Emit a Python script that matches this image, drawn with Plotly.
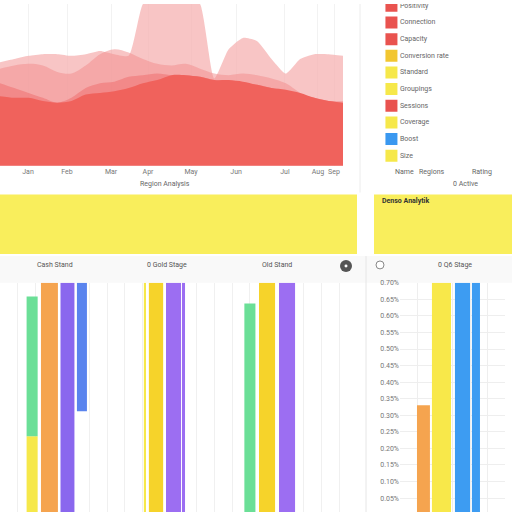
import plotly.graph_objects as go

# ---- data ----
# top-left: layered area chart (values 0-100)
area_x = list(range(25))
area_light = [64, 66, 68, 69, 69, 68, 69, 71, 69, 68, 100, 108, 108, 108, 100,
              54, 72, 79, 77, 66, 57, 66, 69, 69, 68]
area_mid = [60, 62, 63, 62, 58, 57, 62, 69, 72, 70, 66, 63, 62, 63, 60,
            57, 56, 57, 56, 54, 51, 45, 40, 40, 40]
area_deep = [51, 48, 45, 42, 39, 42, 48, 51, 52, 55, 56, 57, 56, 56, 55,
             53, 52, 51, 50, 48, 46, 44, 42, 40, 39]
area_base = [43, 42, 42, 40, 39, 40, 44, 45, 46, 48, 51, 53, 56, 56, 55,
             53, 53, 52, 50, 48, 47, 45, 42, 40, 39]
month_labels = ["Jan", "Feb", "Mar", "Apr", "May", "Jun", "Jul", "Aug", "Sep"]
month_pos = [1.96, 4.69, 7.77, 10.36, 13.37, 16.52, 19.94, 22.25, 23.37]

# top-right: key list
key_labels = ["Positivity", "Connection", "Capacity", "Conversion rate", "Standard",
              "Groupings", "Sessions", "Coverage", "Boost", "Size"]
key_colors = ["#e9534f", "#e9534f", "#e9534f", "#f2c630", "#f6e84a",
              "#f6e84a", "#e9534f", "#f6e84a", "#3a98f0", "#f6e84a"]

# bottom-left: bar groups (slot position, value)
green_x, green_y = [1.8, 14.0], [61, 91]
green_base = [33, 0]
yellow_low_x, yellow_low_y = [1.8], [33]
yellow_x, yellow_y = [8.12, 8.74, 14.96], [100, 100, 100]
orange_x, orange_y = [2.77], [100]
purple_x, purple_y = [3.78, 9.72, 10.28, 16.08], [100, 100, 100, 100]
blue_x, blue_y = [4.59], [56]
blue_base = [44]

# bottom-right: bars (percent)
r_orange_x, r_orange_y = [1.34], [0.33]
r_yellow_x, r_yellow_y = [2.37], [0.70]
r_blue_x, r_blue_y = [3.57, 4.34], [0.70, 0.70]
r_ticks = [0.05 * i for i in range(1, 15)]

fig = go.Figure()

# layered areas, pale ones behind, solid base in front
for vals, col, sm in [(area_light, "rgba(246,178,178,0.75)", 0.55), (area_mid, "rgba(242,140,140,0.5)", 0.9),
                      (area_deep, "rgba(238,112,112,0.55)", 0.9), (area_base, "rgba(240,98,92,1)", 0.9)]:
    fig.add_trace(go.Scatter(x=area_x, y=vals, mode="lines", fill="tozeroy",
                             line=dict(width=0, shape="spline", smoothing=sm),
                             fillcolor=col, hoverinfo="skip", xaxis="x", yaxis="y"))

# key list
fig.add_trace(go.Scatter(x=[1.2] * len(key_labels), y=list(range(len(key_labels))),
                         mode="markers+text", text=key_labels, textposition="middle right",
                         textfont=dict(size=7, color="#666"),
                         marker=dict(symbol="square", size=12, color=key_colors),
                         xaxis="x2", yaxis="y2"))

# bottom bars
def bars(x, y, color, width, base=None, xa="x3", ya="y3"):
    fig.add_trace(go.Bar(x=x, y=y, base=base, width=width, marker=dict(color=color, line_width=0),
                         xaxis=xa, yaxis=ya))

bars(yellow_low_x, yellow_low_y, "#f6e84a", [0.62])
bars(green_x, green_y, "#6bdf97", [0.62, 0.62], base=green_base)
bars(orange_x, orange_y, "#f5a44f", [0.95])
bars(purple_x, purple_y, ["#8a67ee", "#9c6ef2", "#9c6ef2", "#9c6ef2"], [0.78, 0.84, 0.17, 0.9])
bars(blue_x, blue_y, "#5a84ee", [0.56], base=blue_base)
bars(yellow_x, yellow_y, ["#f6e84a", "#f6d32a", "#f6d32a"], [0.12, 0.8, 0.9])

bars(r_orange_x, r_orange_y, "#f5a44f", [0.74], xa="x4", ya="y4")
bars(r_yellow_x, r_yellow_y, "#f8e84a", [1.09], xa="x4", ya="y4")
bars(r_blue_x, r_blue_y, "#3d9cf2", [0.86, 0.46], xa="x4", ya="y4")

def px(v, total=512):
    return v / total

tick_font = dict(size=7, color="#777", family="Roboto")

fig.update_layout(
    width=512, height=512, margin=dict(l=0, r=0, t=0, b=0),
    paper_bgcolor="white", plot_bgcolor="white", showlegend=False, barmode="overlay",
    font=dict(family="Roboto", color="#666"),
    xaxis=dict(domain=[0, px(343)], range=[0, 24], tickvals=month_pos, ticktext=month_labels,
               showgrid=True, gridcolor="#f2f2f2", zeroline=False, tickfont=tick_font, ticks=""),
    yaxis=dict(domain=[1 - px(163), 1], range=[0, 100], showgrid=False, showticklabels=False,
               zeroline=False, anchor="x"),
    xaxis2=dict(domain=[px(375), 1], range=[0, 10], visible=False, anchor="y2"),
    yaxis2=dict(domain=[1 - px(160), 1], range=[9.42, -0.11], visible=False, anchor="x2"),
    xaxis3=dict(domain=[0, px(357)], range=[0, 20], dtick=1, showgrid=True, gridcolor="#f0f0f0",
                showticklabels=False, zeroline=False, anchor="y3"),
    yaxis3=dict(domain=[0, 1 - px(281)], range=[0, 100], showgrid=False, showticklabels=False,
                zeroline=False, anchor="x3"),
    xaxis4=dict(domain=[px(400), px(505)], range=[0, 6], dtick=1, showgrid=True, gridcolor="#eeeeee",
                showticklabels=False, zeroline=False, anchor="y4"),
    yaxis4=dict(domain=[0, 1 - px(281)], range=[0.008, 0.70], tickvals=r_ticks,
                ticktext=["%.2f%%" % t for t in r_ticks], showgrid=True, gridcolor="#eeeeee",
                tickfont=tick_font, zeroline=False, anchor="x4", ticks=""),
)

shapes = [
    dict(type="rect", xref="paper", yref="paper", x0=0, x1=px(357), y0=1 - px(252), y1=1 - px(192),
         fillcolor="#f9ee5c", line_width=0),
    dict(type="rect", xref="paper", yref="paper", x0=px(374), x1=1, y0=1 - px(252), y1=1 - px(192),
         fillcolor="#f9ee5c", line_width=0),
    dict(type="rect", xref="paper", yref="paper", x0=0, x1=1, y0=1 - px(281), y1=1 - px(254),
         fillcolor="#f9f9f9", line_width=0, layer="below"),
    dict(type="line", xref="paper", yref="paper", x0=px(366), x1=px(366), y0=0, y1=1 - px(254),
         line=dict(color="#e6e6e6", width=1)),
    dict(type="line", xref="paper", yref="paper", x0=px(360), x1=px(360), y0=1 - px(190), y1=1,
         line=dict(color="#ececec", width=1)),
    dict(type="circle", xref="paper", yref="paper", x0=px(340), x1=px(352), y0=1 - px(270), y1=1 - px(258),
         fillcolor="#555", line_width=0),
    dict(type="circle", xref="paper", yref="paper", x0=px(344.5), x1=px(347.5), y0=1 - px(265.5), y1=1 - px(262.5),
         fillcolor="white", line_width=0),
    dict(type="circle", xref="paper", yref="paper", x0=px(376), x1=px(384), y0=1 - px(267), y1=1 - px(259),
         fillcolor="white", line=dict(color="#888", width=1)),
]
fig.update_layout(shapes=shapes)

def note(text, x, y, size=7, color="#666", anchor="center", bold=False):
    if bold:
        text = "<b>" + text + "</b>"
    fig.add_annotation(text=text, x=px(x), y=1 - px(y), xref="paper", yref="paper", showarrow=False,
                       xanchor=anchor, yanchor="middle", font=dict(size=size, color=color))

note("Region Analysis", 165, 181)
note("Name", 404, 169)
note("Regions", 432, 169)
note("Rating", 482, 169)
note("0 Active", 465, 181)
note("Denso Analytik", 380, 199, color="#333", anchor="left", bold=True)
note("Cash Stand", 55, 263, color="#555")
note("0 Gold Stage", 167, 263, color="#555")
note("Old Stand", 277, 263, color="#555")
note("0 Q6 Stage", 455, 263, color="#555")

fig.write_html("out.html", config={"displayModeBar": False},
               post_script="document.body.style.margin='0px';")
